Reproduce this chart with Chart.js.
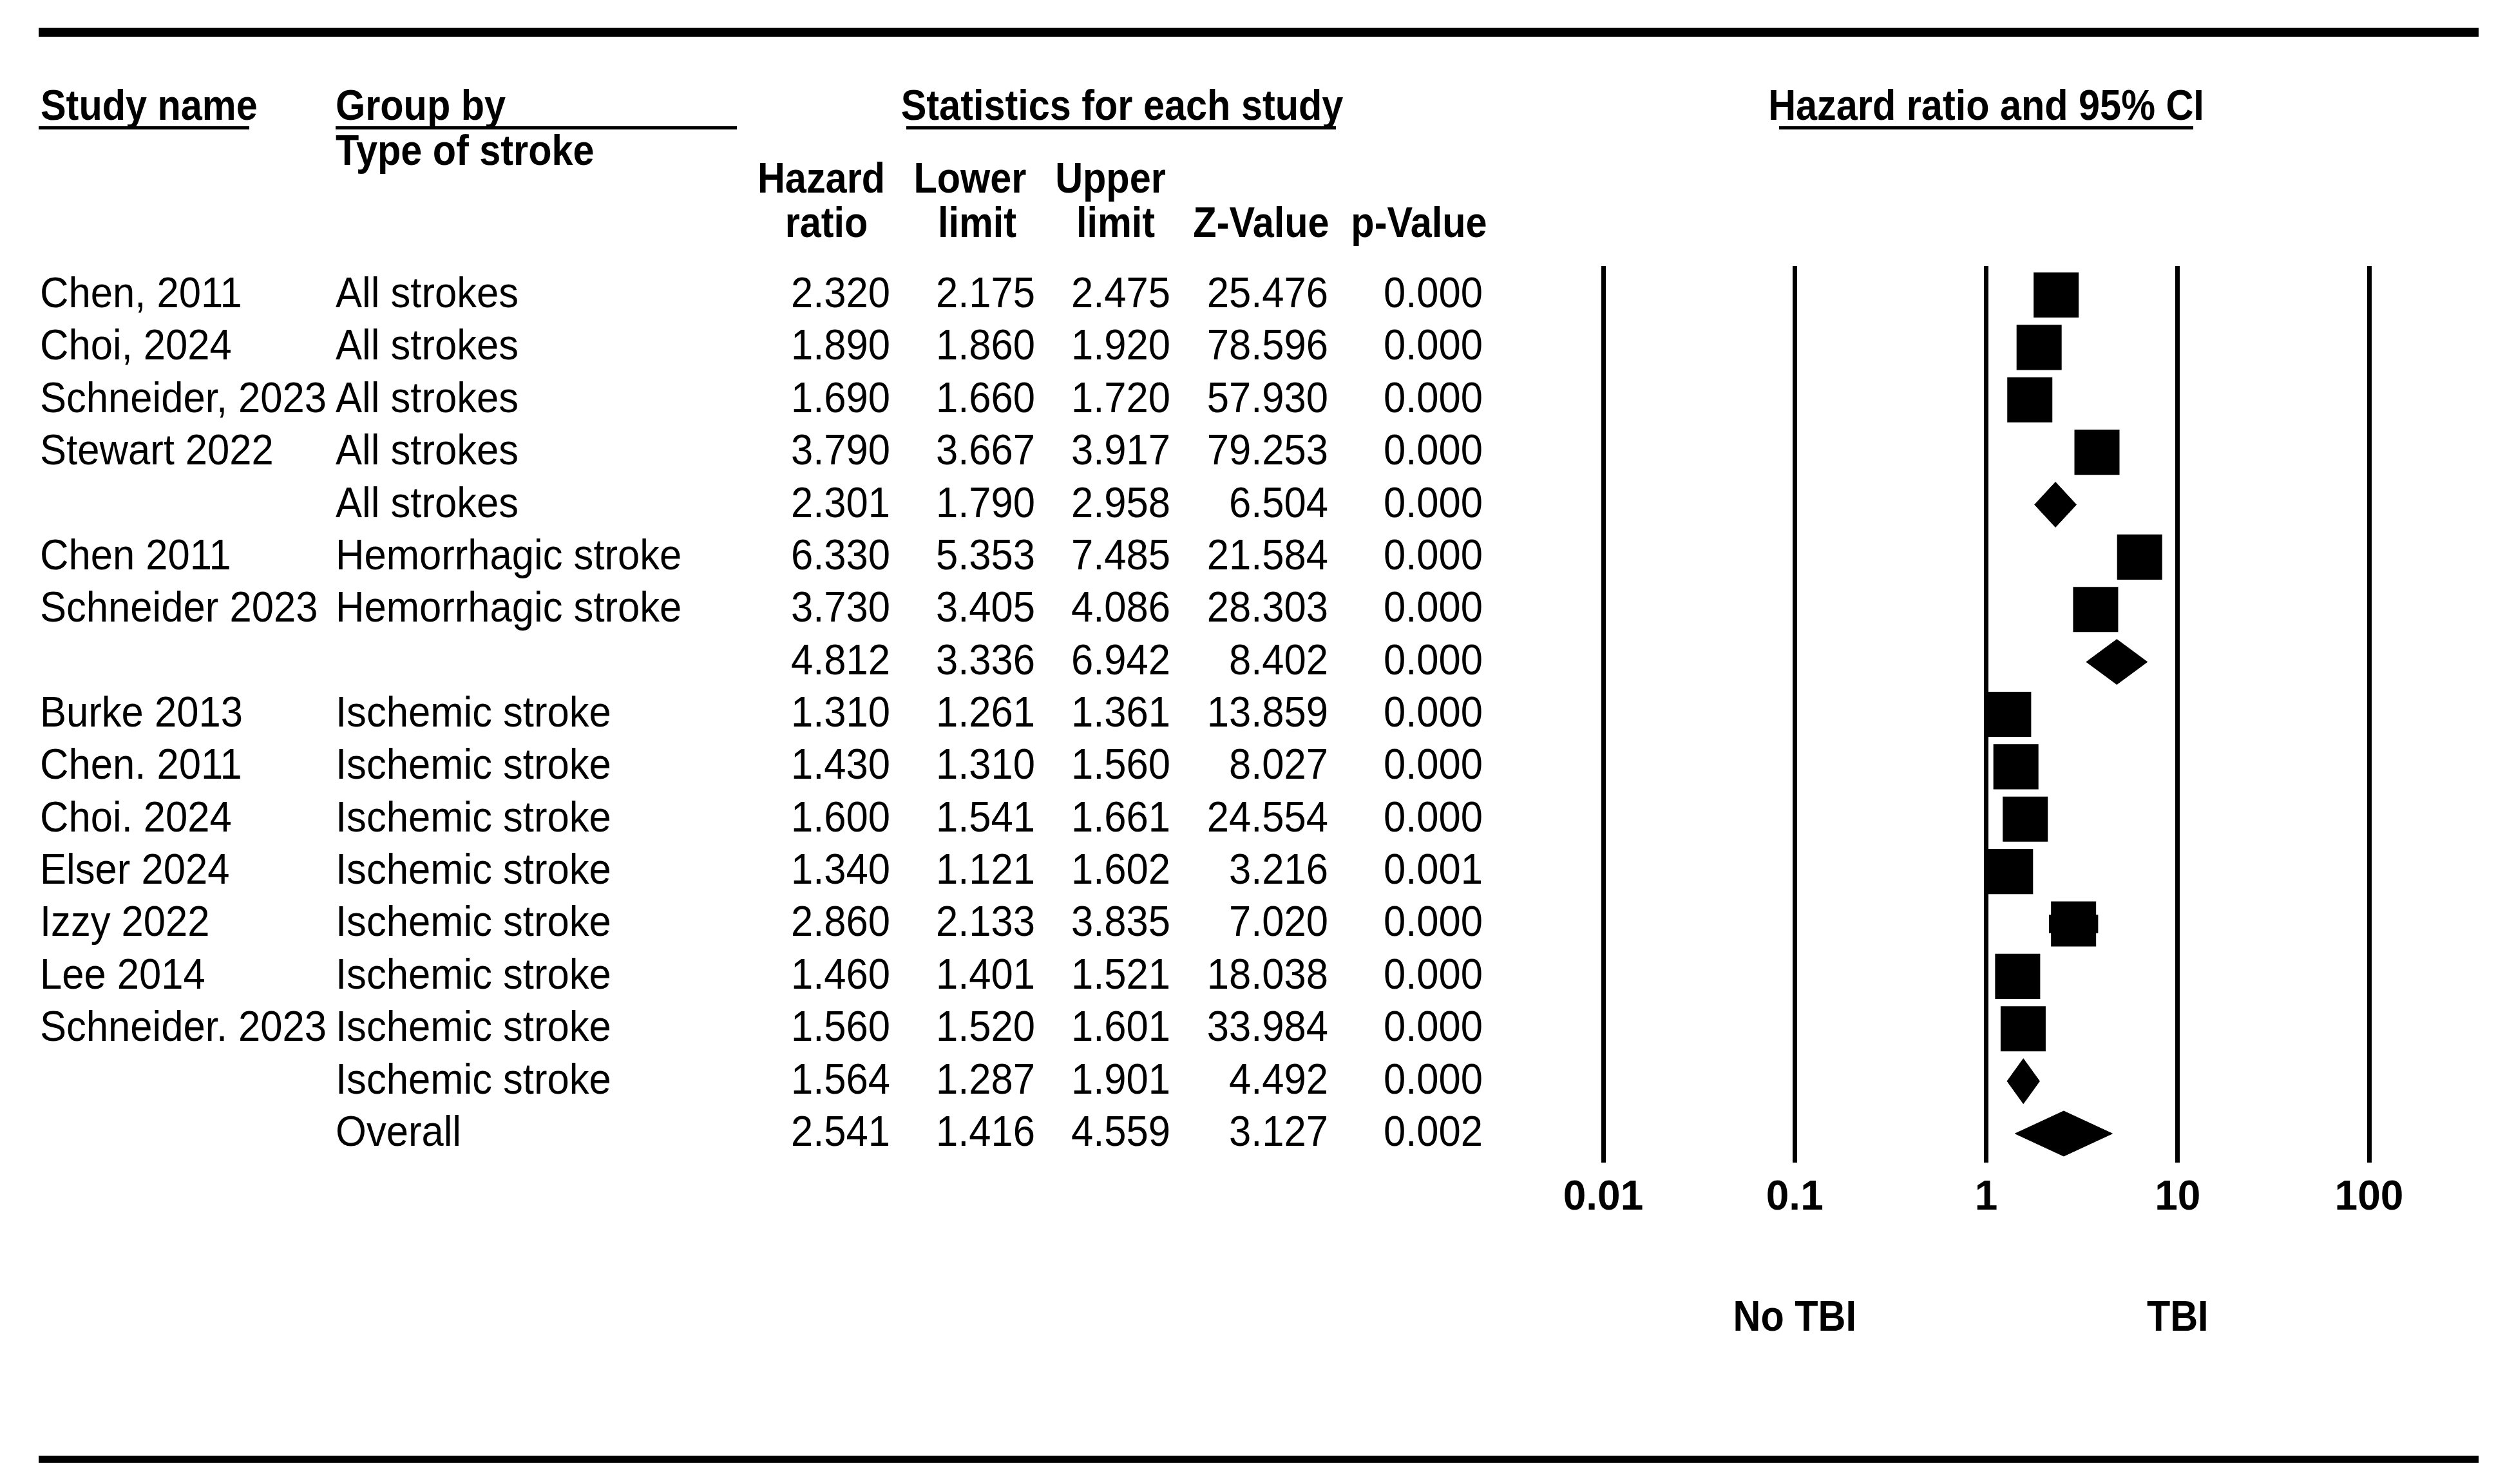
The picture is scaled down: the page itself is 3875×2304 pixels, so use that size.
<!DOCTYPE html>
<html>
<head>
<meta charset="utf-8">
<script src="https://cdn.jsdelivr.net/npm/chart.js@4.4.1/dist/chart.umd.min.js"></script>
<style>
html,body{margin:0;padding:0;background:#fff;}
canvas{display:block;}
</style>
</head>
<body>
<canvas id="c" width="3875" height="2304" style="width:3875px;height:2304px"></canvas>
<script>
// ---------- data ----------
const studyNames = ['Chen, 2011','Choi, 2024','Schneider, 2023','Stewart 2022','','Chen 2011','Schneider 2023','',
  'Burke 2013','Chen. 2011','Choi. 2024','Elser 2024','Izzy 2022','Lee 2014','Schneider. 2023','',''];
const groupNames = ['All strokes','All strokes','All strokes','All strokes','All strokes',
  'Hemorrhagic stroke','Hemorrhagic stroke','',
  'Ischemic stroke','Ischemic stroke','Ischemic stroke','Ischemic stroke','Ischemic stroke','Ischemic stroke','Ischemic stroke',
  'Ischemic stroke','Overall'];
const hazardRatio = [2.320,1.890,1.690,3.790,2.301,6.330,3.730,4.812,1.310,1.430,1.600,1.340,2.860,1.460,1.560,1.564,2.541];
const lowerLimit  = [2.175,1.860,1.660,3.667,1.790,5.353,3.405,3.336,1.261,1.310,1.541,1.121,2.133,1.401,1.520,1.287,1.416];
const upperLimit  = [2.475,1.920,1.720,3.917,2.958,7.485,4.086,6.942,1.361,1.560,1.661,1.602,3.835,1.521,1.601,1.901,4.559];
const zValue      = [25.476,78.596,57.930,79.253,6.504,21.584,28.303,8.402,13.859,8.027,24.554,3.216,7.020,18.038,33.984,4.492,3.127];
const pValue      = [0.000,0.000,0.000,0.000,0.000,0.000,0.000,0.000,0.000,0.000,0.000,0.001,0.000,0.000,0.000,0.000,0.002];
const isSummary   = [false,false,false,false,true,false,false,true,false,false,false,false,false,false,false,true,true];
const tickValues  = [0.01,0.1,1,10,100];
const tickLabels  = ['0.01','0.1','1','10','100'];
const sideLabels  = [{value:0.1, text:'No TBI'},{value:10, text:'TBI'}];

// ---------- styling constants ----------
const FONT = '"Liberation Sans", Arial, Helvetica, sans-serif';
const DIAMOND_HALF = 0.43;   // half height of summary diamonds, in row units
const XAXIS_HEIGHT = 100;

const rows = hazardRatio.map((_, i) => i);
const studyIdx = rows.filter(i => !isSummary[i]);
const summaryIdx = rows.filter(i => isSummary[i]);

const datasets = [
  {
    type: 'bar', indexAxis: 'y', order: 3,
    data: studyIdx.map(i => ({ y: i, x: [lowerLimit[i], upperLimit[i]] })),
    backgroundColor: '#000', borderWidth: 0, barThickness: 28
  },
  {
    type: 'scatter', order: 2,
    data: studyIdx.map(i => ({ x: hazardRatio[i], y: i })),
    pointStyle: 'rect', pointRadius: 49.5, pointHoverRadius: 49.5,
    backgroundColor: '#000', borderWidth: 0
  }
].concat(summaryIdx.map(i => ({
  type: 'line', order: 1,
  data: [
    { x: lowerLimit[i], y: i },
    { x: hazardRatio[i], y: i - DIAMOND_HALF },
    { x: upperLimit[i], y: i },
    { x: hazardRatio[i], y: i + DIAMOND_HALF },
    { x: lowerLimit[i], y: i }
  ],
  fill: 'shape', backgroundColor: '#000', borderColor: '#000', borderWidth: 1,
  pointRadius: 0, tension: 0
})));

function txt(ctx, s, x, y, align, bold, sx) {
  ctx.save();
  ctx.font = (bold ? 'bold ' : '') + '66px ' + FONT;
  ctx.textAlign = align;
  ctx.textBaseline = 'alphabetic';
  ctx.fillStyle = '#000';
  ctx.translate(x, y);
  ctx.scale(sx, 1);
  ctx.fillText(s, 0, 0);
  ctx.restore();
}

const bgPlugin = {
  id: 'bg',
  beforeDraw(chart) {
    const ctx = chart.ctx;
    ctx.save();
    ctx.fillStyle = '#fff';
    ctx.fillRect(0, 0, chart.width, chart.height);
    ctx.restore();
  }
};

const tablePlugin = {
  id: 'table',
  afterDraw(chart) {
    const ctx = chart.ctx;
    const xs = chart.scales.x, ys = chart.scales.y;
    const HS = 0.90, DS = 0.933;
    ctx.save();
    ctx.fillStyle = '#000';
    // rules
    ctx.fillRect(60, 43, 3788, 14);
    ctx.fillRect(60, 2260, 3788, 11);
    // header underlines
    ctx.fillRect(60, 196, 327, 5);
    ctx.fillRect(521, 196, 623, 5);
    ctx.fillRect(1407, 196, 667, 5);
    ctx.fillRect(2762, 196, 643, 5);
    ctx.restore();

    // headers
    txt(ctx, 'Study name', 63, 186, 'left', true, HS);
    txt(ctx, 'Group by', 521, 186, 'left', true, HS);
    txt(ctx, 'Type of stroke', 521, 256, 'left', true, HS);
    txt(ctx, 'Statistics for each study', 1742, 186, 'center', true, HS);
    txt(ctx, 'Hazard ratio and 95% CI', xs.getPixelForValue(1), 186, 'center', true, HS);
    txt(ctx, 'Hazard', 1275, 299, 'center', true, HS);
    txt(ctx, 'Lower', 1506, 299, 'center', true, HS);
    txt(ctx, 'Upper', 1724, 299, 'center', true, HS);
    txt(ctx, 'ratio', 1283, 368, 'center', true, HS);
    txt(ctx, 'limit', 1517, 368, 'center', true, HS);
    txt(ctx, 'limit', 1732, 368, 'center', true, HS);
    txt(ctx, 'Z-Value', 1958, 368, 'center', true, HS);
    txt(ctx, 'p-Value', 2203, 368, 'center', true, HS);

    // rows
    rows.forEach(i => {
      const yb = ys.getPixelForValue(i) + 19;
      if (studyNames[i]) txt(ctx, studyNames[i], 62, yb, 'left', false, DS);
      if (groupNames[i]) txt(ctx, groupNames[i], 521, yb, 'left', false, DS);
      txt(ctx, hazardRatio[i].toFixed(3), 1382, yb, 'right', false, DS);
      txt(ctx, lowerLimit[i].toFixed(3), 1607, yb, 'right', false, DS);
      txt(ctx, upperLimit[i].toFixed(3), 1817, yb, 'right', false, DS);
      txt(ctx, zValue[i].toFixed(3), 2062, yb, 'right', false, DS);
      txt(ctx, pValue[i].toFixed(3), 2302, yb, 'right', false, DS);
    });

    // favour labels
    sideLabels.forEach(l => txt(ctx, l.text, xs.getPixelForValue(l.value), 2066, 'center', true, HS));
  }
};

Chart.defaults.font.family = FONT;

new Chart(document.getElementById('c'), {
  type: 'scatter',
  data: { datasets },
  options: {
    responsive: false,
    devicePixelRatio: 1,
    animation: false,
    events: [],
    layout: { padding: { left: 2489, right: 197, top: 413, bottom: 2304 - 1805 - XAXIS_HEIGHT } },
    plugins: { legend: { display: false }, tooltip: { enabled: false } },
    scales: {
      x: {
        type: 'logarithmic', position: 'bottom', min: 0.01, max: 100,
        beginAtZero: false, offset: false,
        afterBuildTicks: s => { s.ticks = tickValues.map(v => ({ value: v })); },
        afterFit: s => { s.height = XAXIS_HEIGHT; },
        ticks: {
          callback: (v, idx) => tickLabels[idx],
          autoSkip: false, maxRotation: 0, minRotation: 0,
          color: '#000', padding: 17,
          font: { family: FONT, size: 64, weight: 'bold' }
        },
        grid: { color: '#000', lineWidth: 7, drawTicks: false, drawOnChartArea: true, offset: false },
        border: { display: false }
      },
      y: {
        type: 'linear', min: -0.553, max: 16.553, reverse: true,
        display: false, offset: false, beginAtZero: false,
        grid: { offset: false }
      }
    }
  },
  plugins: [bgPlugin, tablePlugin]
});
</script>
</body>
</html>
